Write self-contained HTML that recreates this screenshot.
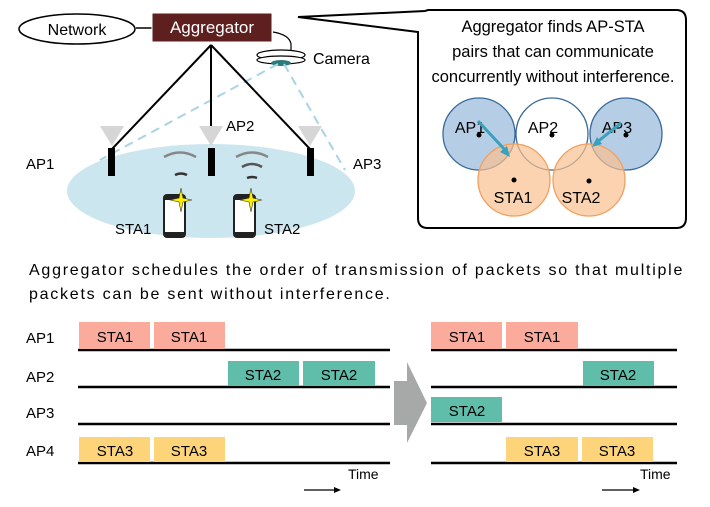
<!DOCTYPE html>
<html><head><meta charset="utf-8"><style>
body{margin:0;background:#fff;}
svg text{font-family:"Liberation Sans",sans-serif;}
</style></head><body>
<svg width="710" height="502" viewBox="0 0 710 502" xmlns="http://www.w3.org/2000/svg">
<!-- top left -->
<ellipse cx="211" cy="191" rx="144" ry="47" fill="#cce6ef"/>
<line x1="136" y1="28" x2="152" y2="28" stroke="#000" stroke-width="1.5"/>
<ellipse cx="77" cy="29" rx="58" ry="15" fill="#fff" stroke="#000" stroke-width="1.5"/>
<text x="77" y="35" font-size="16" text-anchor="middle">Network</text>
<rect x="152" y="13" width="120" height="29" fill="#5e1f1f" stroke="#fff"/>
<text x="212" y="33" font-size="17" fill="#fff" text-anchor="middle">Aggregator</text>
<path d="M273 32 C285 34 290 38 291 44 L291 50" fill="none" stroke="#000" stroke-width="1.2"/>
<ellipse cx="281" cy="55" rx="24" ry="5" fill="#fff" stroke="#000" stroke-width="1.2"/>
<ellipse cx="281" cy="60" rx="24" ry="4" fill="#fff" stroke="#000" stroke-width="1.2"/>
<ellipse cx="281" cy="63" rx="10" ry="3" fill="#2a7a7a"/>
<text x="313" y="64" font-size="16">Camera</text>
<line x1="278" y1="64" x2="100" y2="160" stroke="#a8d4e6" stroke-width="2" stroke-dasharray="9,6"/>
<line x1="284" y1="64" x2="345" y2="170" stroke="#a8d4e6" stroke-width="2" stroke-dasharray="9,6"/>
<line x1="211" y1="45" x2="112" y2="149" stroke="#000" stroke-width="2"/>
<line x1="211" y1="45" x2="211" y2="130" stroke="#000" stroke-width="2"/>
<line x1="211" y1="45" x2="310" y2="149" stroke="#000" stroke-width="2"/>
<g fill="#d6d6d6">
<polygon points="100,126 124,126 112,146"/>
<polygon points="199,126 223,126 211,146"/>
<polygon points="298,126 322,126 310,146"/>
</g>
<g fill="#000">
<rect x="108" y="148" width="7" height="28"/>
<rect x="208" y="148" width="7" height="28"/>
<rect x="307" y="148" width="7" height="28"/>
</g>
<text x="26" y="169" font-size="15">AP1</text>
<text x="226" y="131" font-size="15">AP2</text>
<text x="353" y="169" font-size="15">AP3</text>
<g fill="none" stroke="#888" stroke-width="2.5">
<path d="M164 157 Q180 148 196 157"/><path d="M175 175 Q181 172 187 175" stroke="#333"/>
<path d="M236 157 Q252 148 268 157"/><path d="M242 167 Q252 161 262 167" stroke="#555"/><path d="M247 178 Q252 176 257 178" stroke="#333"/>
</g>
<g>
<rect x="163" y="194" width="23" height="44" rx="4" fill="#222"/><rect x="165" y="200" width="19" height="32" fill="#fff"/>
<rect x="233" y="194" width="23" height="44" rx="4" fill="#222"/><rect x="235" y="200" width="19" height="32" fill="#fff"/>
<polygon points="181,188 183,198 192,200 183,202 181,212 179,202 170,200 179,198" fill="#ffef00" stroke="#333" stroke-width="0.6"/>
<polygon points="251,188 253,198 262,200 253,202 251,212 249,202 240,200 249,198" fill="#ffef00" stroke="#333" stroke-width="0.6"/>
</g>
<text x="115" y="234" font-size="15">STA1</text>
<text x="264" y="234" font-size="15">STA2</text>
<!-- callout -->
<path d="M428 10 L676 10 Q686 10 686 20 L686 218 Q686 228 676 228 L428 228 Q418 228 418 218 L418 32 L298 17 L425 11 Z" fill="#fff" stroke="#000" stroke-width="2"/>
<g font-size="16.5" text-anchor="middle">
<text x="553" y="32">Aggregator finds AP-STA</text>
<text x="553" y="57">pairs that can communicate</text>
<text x="553" y="82">concurrently without interference.</text>
</g>
<g stroke-width="1.3">
<circle cx="479" cy="134" r="36" fill="#a9c4e2" fill-opacity="0.85" stroke="#3a6a9a"/>
<circle cx="552" cy="134" r="36" fill="#fff" stroke="#3a6a9a"/>
<circle cx="626" cy="134" r="36" fill="#a9c4e2" fill-opacity="0.85" stroke="#3a6a9a"/>
<circle cx="514" cy="180" r="36" fill="#f9c08e" fill-opacity="0.7" stroke="#f0a060"/>
<circle cx="589" cy="180" r="36" fill="#f9c08e" fill-opacity="0.7" stroke="#f0a060"/>
</g>
<g fill="#000"><circle cx="479" cy="135" r="2.5"/><circle cx="552" cy="135" r="2.5"/><circle cx="626" cy="135" r="2.5"/><circle cx="514" cy="180" r="2.5"/><circle cx="589" cy="181" r="2.5"/></g>
<g font-size="16" text-anchor="middle">
<text x="470" y="133">AP1</text><text x="543" y="133">AP2</text><text x="617" y="133">AP3</text>
<text x="513" y="203">STA1</text><text x="581" y="203">STA2</text>
</g>
<g stroke="#3aa0bb" stroke-width="3" fill="#3aa0bb">
<line x1="478" y1="121" x2="506" y2="151"/><polygon points="510,157 500,152 507,146" stroke="none"/>
<line x1="621" y1="123" x2="596" y2="143"/><polygon points="592,147 597,137 602,144" stroke="none"/>
</g>
<!-- middle text -->
<g font-size="16" letter-spacing="1.75">
<text x="29" y="275">Aggregator schedules the order of transmission of packets so that multiple</text>
<text x="29" y="299">packets can be sent without interference.</text>
</g>
<!-- timelines -->
<g font-size="15">
<text x="26" y="343">AP1</text><text x="26" y="382">AP2</text><text x="26" y="418">AP3</text><text x="26" y="456">AP4</text>
</g>
<g stroke="#000" stroke-width="2.5">
<line x1="78" y1="350" x2="390" y2="350"/><line x1="78" y1="387" x2="390" y2="387"/>
<line x1="78" y1="424" x2="390" y2="424"/><line x1="78" y1="463" x2="390" y2="463"/>
<line x1="431" y1="350" x2="677" y2="350"/><line x1="431" y1="387" x2="677" y2="387"/>
<line x1="431" y1="424" x2="677" y2="424"/><line x1="431" y1="463" x2="677" y2="463"/>
</g>
<g>
<rect x="79" y="322" width="71" height="27" fill="#fbab9c"/><rect x="154" y="322" width="71" height="27" fill="#fbab9c"/>
<rect x="228" y="361" width="71" height="25" fill="#5fbdaa"/><rect x="303" y="361" width="72" height="25" fill="#5fbdaa"/>
<rect x="79" y="437" width="71" height="25" fill="#fdd479"/><rect x="154" y="437" width="71" height="25" fill="#fdd479"/>
<rect x="431" y="322" width="71" height="27" fill="#fbab9c"/><rect x="506" y="322" width="72" height="27" fill="#fbab9c"/>
<rect x="583" y="361" width="71" height="25" fill="#5fbdaa"/>
<rect x="431" y="397" width="71" height="25" fill="#5fbdaa"/>
<rect x="506" y="437" width="72" height="25" fill="#fdd479"/><rect x="582" y="437" width="71" height="25" fill="#fdd479"/>
</g>
<g font-size="15" text-anchor="middle">
<text x="115" y="342">STA1</text><text x="189" y="342">STA1</text>
<text x="263" y="380">STA2</text><text x="339" y="380">STA2</text>
<text x="115" y="456">STA3</text><text x="189" y="456">STA3</text>
<text x="467" y="342">STA1</text><text x="542" y="342">STA1</text>
<text x="618" y="380">STA2</text>
<text x="467" y="416">STA2</text>
<text x="542" y="456">STA3</text><text x="617" y="456">STA3</text>
</g>
<g font-size="14"><text x="348" y="479">Time</text><text x="640" y="479">Time</text></g>
<g stroke="#000" stroke-width="1.3"><line x1="304" y1="490" x2="337" y2="490"/><line x1="602" y1="490" x2="636" y2="490"/></g>
<polygon points="341,490 334,487 334,493" fill="#000"/><polygon points="640,490 633,487 633,493" fill="#000"/>
<polygon points="394,381 407,381 407,362 427,403 407,443 407,425 394,425" fill="#a7a9a9"/>
</svg>
</body></html>
